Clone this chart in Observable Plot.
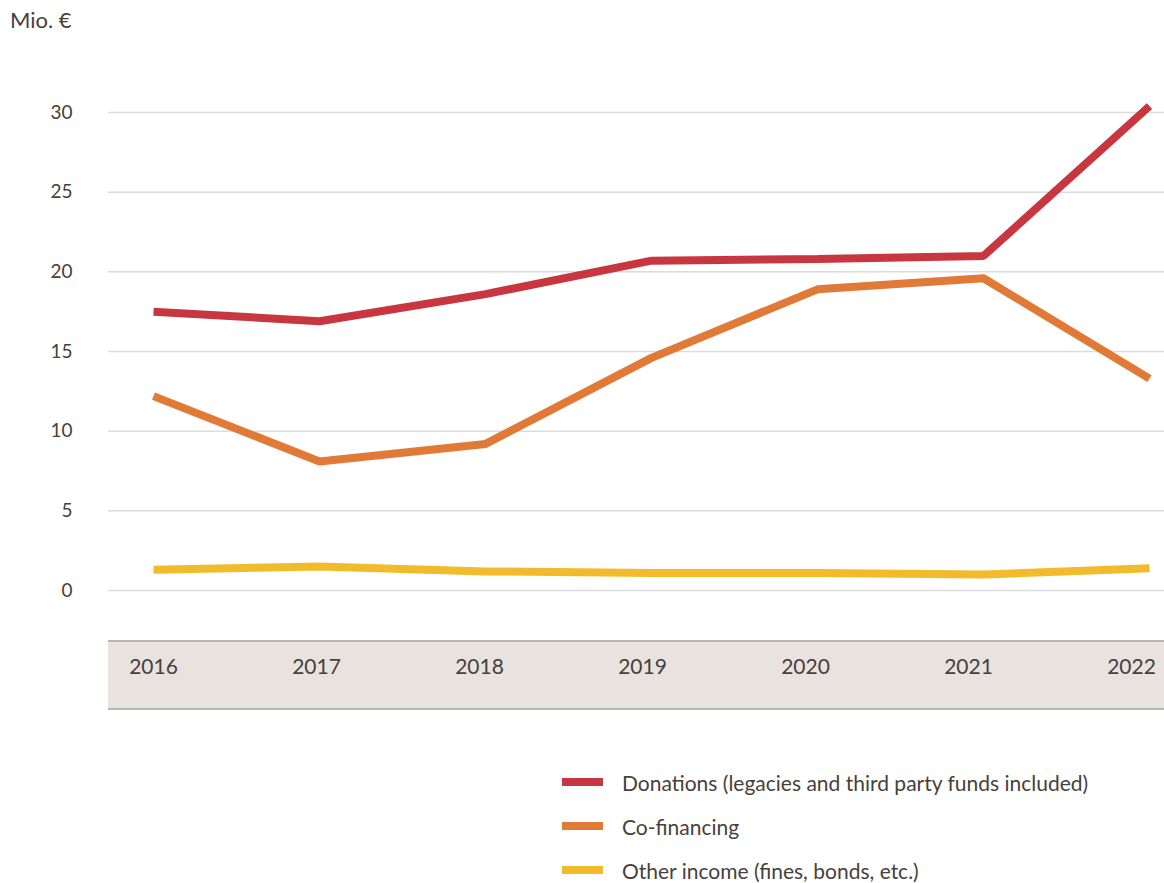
<!DOCTYPE html>
<html>
<head>
<meta charset="utf-8">
<script src="https://cdn.jsdelivr.net/npm/d3@7"></script>
<script src="https://cdn.jsdelivr.net/npm/@observablehq/plot@0.6"></script>
<style>
  body { margin: 0; background: #fff; font-family: Lato, "Open Sans", sans-serif; color: #46413d; }
  #wrap { position: relative; width: 1164px; height: 883px; overflow: hidden; }
  #unit { position: absolute; left: 10px; top: 6px; font-size: 22px; }
  #main { position: absolute; left: 0; top: 0; }
  #band { position: absolute; left: 108px; top: 640px; width: 1056px; height: 66px;
          background: #e8e3df; border-top: 2px solid #b9b4af; border-bottom: 2px solid #b9b4af; }
  #legend { position: absolute; left: 562px; top: 760px; font-size: 21px; }
  .item { display: flex; align-items: center; height: 44px; }
  .sw { width: 41px; height: 8px; margin-right: 19px; }
</style>
</head>
<body>
<div id="wrap">
  <div id="main"></div>
  <div id="unit">Mio. €</div>
  <div id="band"></div>
  <div id="legend"></div>
</div>
<script>
const years = [2016, 2017, 2018, 2019, 2020, 2021, 2022];
const seriesNames = ["Donations (legacies and third party funds included)", "Co-financing", "Other income (fines, bonds, etc.)"];
const donations = [17.5, 16.9, 18.6, 20.7, 20.8, 21.0, 30.4];
const cofinancing = [12.2, 8.1, 9.2, 14.6, 18.9, 19.6, 13.3];
const other = [1.3, 1.5, 1.2, 1.1, 1.1, 1.0, 1.4];
const colors = ["#c8363f", "#e07a36", "#f2bb2c"];
const yTicks = [0, 5, 10, 15, 20, 25, 30];

const valuesBySeries = [donations, cofinancing, other];
const data = [];
seriesNames.forEach((s, i) => years.forEach((y, j) => data.push({series: s, year: y, value: valuesBySeries[i][j]})));

const main = Plot.plot({
  width: 1164,
  height: 600,
  marginTop: 112,
  marginBottom: 10,
  marginLeft: 108,
  marginRight: 0,
  style: {fontSize: "19px", fontFamily: "Lato, 'Open Sans', sans-serif", color: "#46413d", background: "transparent"},
  x: {type: "point", domain: years, range: [152, 1150], padding: 0, axis: null},
  y: {domain: [0, 30], ticks: yTicks},
  color: {domain: seriesNames, range: colors},
  marks: [
    Plot.gridY(yTicks, {stroke: "#dcdcdc", strokeOpacity: 1, strokeWidth: 1.5}),
    Plot.axisY(yTicks, {tickSize: 0, tickPadding: 36, label: null, fill: "#46413d"}),
    Plot.line(data, {x: "year", y: "value", z: "series", stroke: "series", strokeWidth: 8,
      strokeLinecap: "butt", strokeLinejoin: "miter"})
  ]
});
document.getElementById("main").appendChild(main);

const band = Plot.plot({
  width: 1056,
  height: 66,
  margin: 0,
  style: {fontSize: "21px", fontFamily: "Lato, 'Open Sans', sans-serif", color: "#46413d", background: "transparent"},
  x: {type: "point", domain: years, range: [44, 1024], padding: 0, axis: null},
  marks: [
    Plot.text(years, {x: d => d, frameAnchor: "middle", dy: -8, text: d => String(d), fill: "#46413d", fontSize: 21})
  ]
});
document.getElementById("band").appendChild(band);

const legend = d3.select("#legend");
seriesNames.forEach((s, i) => {
  const it = legend.append("div").attr("class", "item");
  it.append("div").attr("class", "sw").style("background", colors[i]);
  it.append("span").text(s);
});
</script>
</body>
</html>
